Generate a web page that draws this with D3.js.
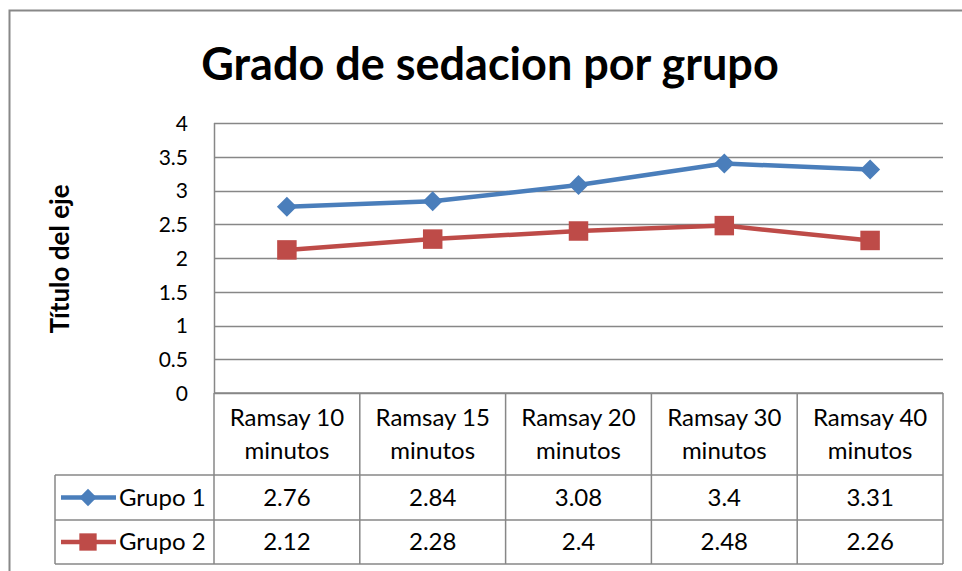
<!DOCTYPE html>
<html><head><meta charset="utf-8">
<script src="https://cdn.jsdelivr.net/npm/d3@7"></script>
<style>body{margin:0;background:#fff}svg{display:block}</style>
</head><body>
<script>
const categories = ["Ramsay 10 minutos","Ramsay 15 minutos","Ramsay 20 minutos","Ramsay 30 minutos","Ramsay 40 minutos"];
const grupo1 = [2.76, 2.84, 3.08, 3.4, 3.31];
const grupo2 = [2.12, 2.28, 2.4, 2.48, 2.26];
const seriesNames = ["Grupo 1","Grupo 2"];
const yTicks = [0,0.5,1,1.5,2,2.5,3,3.5,4];
const titleText = "Grado de sedacion por grupo";
const yTitle = "Título del eje";

const W=962,H=571;
const font = "Lato, 'Open Sans', sans-serif";
const svg = d3.select("body").append("svg").attr("width",W).attr("height",H);
svg.append("rect").attr("x",9.5).attr("y",10.5).attr("width",980).attr("height",600)
  .attr("fill","#fff").attr("stroke","#888").attr("stroke-width",2);

const L=214,R=943,T=123,B=393;
const x = d3.scaleBand().domain(categories).range([L,R]);
const y = d3.scaleLinear().domain([0,4]).range([B,T]);
const grid="#878787";

// gridlines
svg.append("g").selectAll("line").data(yTicks).join("line")
  .attr("x1",L).attr("x2",R).attr("y1",d=>Math.round(y(d))+0.5).attr("y2",d=>Math.round(y(d))+0.5)
  .attr("stroke",grid).attr("stroke-width",1.5);
svg.append("line").attr("x1",L+0.5).attr("x2",L+0.5).attr("y1",T).attr("y2",B).attr("stroke",grid).attr("stroke-width",1.5);

// y axis labels
const yAxis = d3.axisLeft(y).tickValues(yTicks).tickSize(0).tickPadding(0).tickFormat(d3.format("~g"));
const ga = svg.append("g").attr("transform",`translate(188,0)`).call(yAxis);
ga.select(".domain").remove();
ga.selectAll("text").attr("font-family",font).attr("font-size",21).attr("fill","#000").attr("dy","0.35em");

svg.append("text").attr("transform","translate(69,259) rotate(-90)").attr("text-anchor","middle")
  .attr("font-family",font).attr("font-weight","bold").attr("font-size",26).text(yTitle);

svg.append("text").attr("x",490).attr("y",80).attr("text-anchor","middle")
  .attr("font-family",font).attr("font-weight","bold").attr("font-size",45).text(titleText);

// table
const rowY=[393,475,520,564];
const tL=55;
const fs=24;
const tg = svg.append("g").attr("stroke",grid).attr("stroke-width",1.5).attr("fill","none");
tg.append("line").attr("x1",L).attr("x2",R).attr("y1",rowY[0]).attr("y2",rowY[0]);
[1,2,3].forEach(i=>tg.append("line").attr("x1",tL).attr("x2",R).attr("y1",rowY[i]).attr("y2",rowY[i]));
const vx = categories.map(c=>x(c)).concat([R]);
vx.forEach(v=>tg.append("line").attr("x1",v).attr("x2",v).attr("y1",rowY[0]).attr("y2",rowY[3]));
tg.append("line").attr("x1",tL).attr("x2",tL).attr("y1",rowY[1]).attr("y2",rowY[3]);

categories.forEach(c=>{
  const parts=c.split(" ");
  const t=svg.append("text").attr("text-anchor","middle").attr("font-family",font).attr("font-size",fs).attr("fill","#000");
  t.append("tspan").attr("x",x(c)+x.bandwidth()/2).attr("y",426).text(parts[0]+" "+parts[1]);
  t.append("tspan").attr("x",x(c)+x.bandwidth()/2).attr("y",459).text(parts[2]);
});

const series=[{name:seriesNames[0],vals:grupo1,color:"#4A7EBB",shape:d3.symbolSquare,rot:45,size:200,lsize:150},
              {name:seriesNames[1],vals:grupo2,color:"#BE4B48",shape:d3.symbolSquare,rot:0,size:380,lsize:300}];
const cx = c=>x(c)+x.bandwidth()/2;
series.forEach((s,i)=>{
  const line=d3.line().x((d,j)=>cx(categories[j])).y(d=>y(d));
  svg.append("path").datum(s.vals).attr("d",line).attr("fill","none").attr("stroke",s.color).attr("stroke-width",4.5).attr("stroke-linejoin","round");
  svg.append("g").selectAll("path").data(s.vals).join("path")
    .attr("transform",(d,j)=>`translate(${cx(categories[j])},${y(d)}) rotate(${s.rot})`)
    .attr("d",d3.symbol().type(s.shape).size(s.size)).attr("fill",s.color);
  const ry=(rowY[i+1]+rowY[i+2])/2;
  svg.append("line").attr("x1",61).attr("x2",116).attr("y1",ry).attr("y2",ry).attr("stroke",s.color).attr("stroke-width",4.5);
  svg.append("path").attr("transform",`translate(88,${ry}) rotate(${s.rot})`).attr("d",d3.symbol().type(s.shape).size(s.lsize)).attr("fill",s.color);
  svg.append("text").attr("x",119).attr("y",ry).attr("dy","0.35em").attr("font-family",font).attr("font-size",fs).text(s.name);
  s.vals.forEach((v,j)=>{
    svg.append("text").attr("x",cx(categories[j])).attr("y",ry).attr("dy","0.35em").attr("text-anchor","middle")
      .attr("font-family",font).attr("font-size",fs).text(d3.format("~g")(v));
  });
});
</script>
</body></html>
